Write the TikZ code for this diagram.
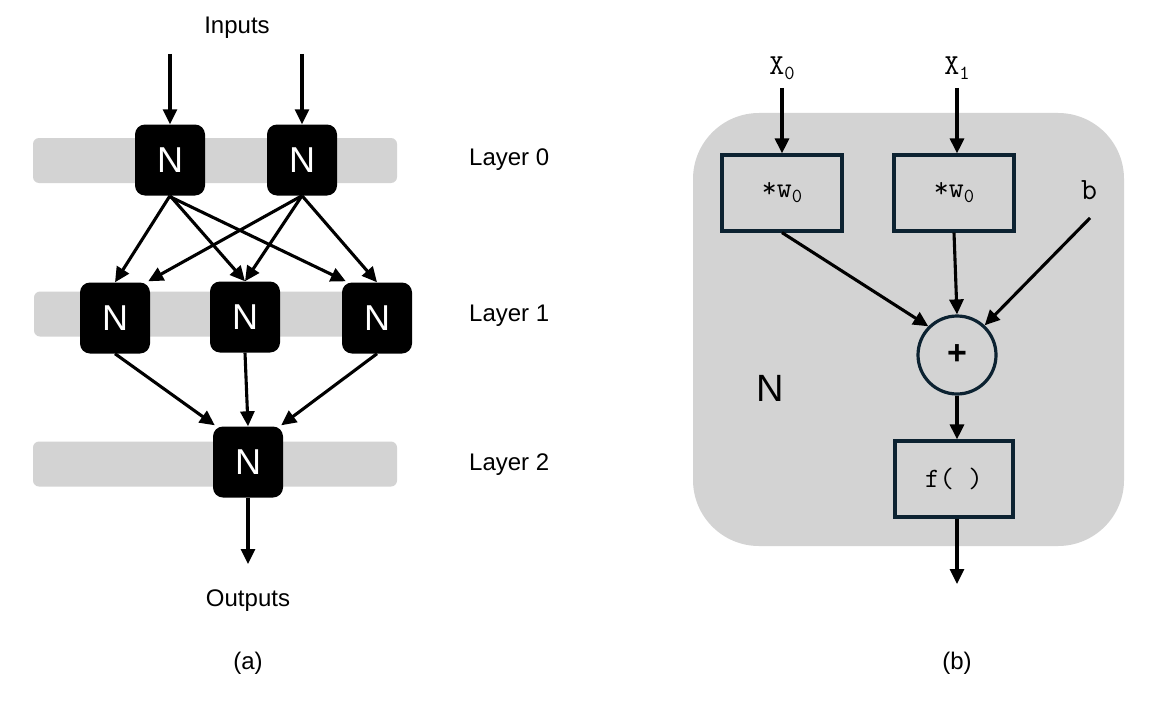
\documentclass[tikz,border=0pt]{standalone}
\usepackage{fontspec}
\setmainfont{Liberation Sans}
\usetikzlibrary{arrows.meta}
\definecolor{bandgray}{HTML}{D3D3D3}
\definecolor{edgedark}{HTML}{0C2231}
\tikzset{
  band/.style={fill=bandgray, rounded corners=6pt, minimum width=364pt, minimum height=45pt, inner sep=0pt},
  neuron/.style={fill=black, rounded corners=10pt, minimum width=70pt, minimum height=71pt, inner sep=0pt, text=white, font=\fontsize{36}{36}\selectfont},
  lbl/.style={font=\fontsize{24}{24}\selectfont, inner sep=0pt},
  arr/.style={line width=3.1pt, -{Triangle[length=15pt,width=14pt]}},
  opbox/.style={draw=edgedark, line width=3.2pt, minimum width=120pt, minimum height=76pt, inner sep=0pt, font=\ttfamily\fontsize{29}{29}\selectfont},
  opcirc/.style={draw=edgedark, line width=3.2pt, circle, minimum size=78pt, inner sep=0pt, font=\fontsize{34}{34}\selectfont\bfseries},
  mono/.style={font=\ttfamily\fontsize{29}{29}\selectfont, inner sep=0pt},
}
\begin{document}
\begin{tikzpicture}[x=1pt,y=-1pt]
\useasboundingbox (0,0) rectangle (1174,706);
% ---------- panel (a) ----------
\node[band] (b0) at (215,160.5) {};
\node[band] (b1) at (216,314) {};
\node[band] (b2) at (215,464) {};
\node[neuron] (n00) at (170,160) {N};
\node[neuron] (n01) at (302,160) {N};
\node[neuron] (n10) at (115,318) {N};
\node[neuron] (n11) at (245,317) {N};
\node[neuron] (n12) at (377,318) {N};
\node[neuron] (n2) at (248,462) {N};
\node[lbl] (inputs) at (237,28) {Inputs};
\node[lbl] (outputs) at (248,601) {Outputs};
\node[lbl] (capa) at (248,663) {(a)};
\node[lbl, anchor=west] (l0) at (469,160) {Layer 0};
\node[lbl, anchor=west] (l1) at (469,316) {Layer 1};
\node[lbl, anchor=west] (l2) at (469,465) {Layer 2};
\coordinate (in0) at (170,54);
\coordinate (in1) at (302,54);
\coordinate (out) at (248,564);
\draw[arr] (in0) -- (n00.north);
\draw[arr] (in1) -- (n01.north);
\draw[arr] (n00.south) -- (n10.north);
\draw[arr] (n00.south) -- (n11.north);
\draw[arr] ([yshift=-1pt]n00.south) -- ([xshift=4pt,yshift=1pt]n12.north west);
\draw[arr] (n01.south) -- ([xshift=-2pt,yshift=1pt]n10.north east);
\draw[arr] (n01.south) -- (n11.north);
\draw[arr] (n01.south) -- (n12.north);
\draw[arr] (n10.south) -- ([xshift=2pt,yshift=1pt]n2.north west);
\draw[arr] (n11.south) -- (n2.north);
\draw[arr] (n12.south) -- ([xshift=-2pt,yshift=1pt]n2.north east);
\draw[arr] (n2.south) -- (out);
% ---------- panel (b) ----------
\node[fill=bandgray, rounded corners=66pt, minimum width=431pt, minimum height=433pt, inner sep=0pt] (cell) at (908.5,329.5) {};
\node[font=\fontsize{38}{38}\selectfont, inner sep=0pt] (bigN) at (770,388) {N};
\node[mono] (x0) at (782,68) {X\raisebox{-5pt}{\fontsize{20}{20}\selectfont 0}};
\node[mono] (x1) at (957,68) {X\raisebox{-5pt}{\fontsize{20}{20}\selectfont 1}};
\node[mono, font=\ttfamily\fontsize{31}{31}\selectfont] (bb) at (1089,190) {b};
\node[opbox] (w0) at (782,193) {*w\raisebox{-5pt}{\fontsize{20}{20}\selectfont 0}};
\node[opbox] (w1) at (954,193) {*w\raisebox{-5pt}{\fontsize{20}{20}\selectfont 0}};
\node[opcirc] (sum) at (957,355) {+};
\node[opbox, minimum width=118pt, font=\ttfamily\fontsize{28}{28}\selectfont] (f) at (954,479) {f(~)};
\node[lbl] (capb) at (957,663) {(b)};
\coordinate (xin0) at (782,88);
\coordinate (xin1) at (957,88);
\coordinate (bin) at (1090,218);
\coordinate (fout) at (957,584);
\draw[arr] (xin0) -- (w0.north);
\draw[arr] (xin1) -- ([xshift=3pt]w1.north);
\draw[arr] (w0.south) -- (sum.135);
\draw[arr] (w1.south) -- (sum.north);
\draw[arr] (bin) -- (sum.47);
\draw[arr] (sum.south) -- ([xshift=3pt]f.north);
\draw[arr] ([xshift=3pt]f.south) -- (fout);
\end{tikzpicture}
\end{document}
